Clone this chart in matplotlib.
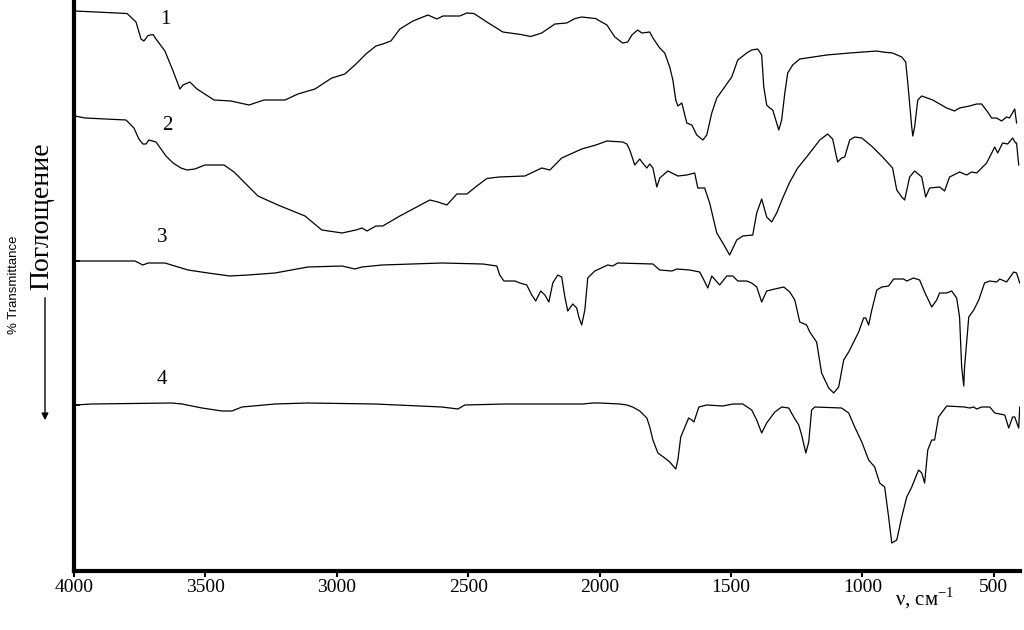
import matplotlib
matplotlib.use("Agg")
import matplotlib.pyplot as plt

plt.rcParams['font.family'] = ['Liberation Serif', 'DejaVu Serif']
plt.rcParams['mathtext.fontset'] = 'custom'
plt.rcParams['mathtext.rm'] = 'Liberation Serif'

# IR spectra, wavenumber (cm-1) and absorption (arbitrary units, stacked, grows downward)
nu1 = [3996, 3798, 3764, 3745, 3734, 3718, 3699, 3688, 3654, 3623, 3597, 3585, 3559, 3532, 3467,
       3403, 3334, 3277, 3197, 3148, 3083, 3019, 2969, 2927, 2889, 2851, 2825, 2794, 2760, 2710,
       2653, 2619, 2596, 2532, 2505, 2478, 2429, 2368, 2300, 2262, 2220, 2170, 2125, 2094, 2068,
       2014, 1999, 1972, 1942, 1912, 1893, 1877, 1855, 1839, 1809, 1797, 1771, 1752, 1733, 1721,
       1710, 1702, 1687, 1668, 1649, 1630, 1607, 1592, 1573, 1554, 1524, 1497, 1474, 1440, 1421,
       1398, 1383, 1375, 1364, 1352, 1341, 1326, 1318, 1307, 1295, 1284, 1265, 1238, 1212, 1136,
       1048, 945, 923, 885, 850, 835, 827, 812, 808, 801, 789, 774, 732, 679, 649, 630, 592, 565,
       546, 523, 508, 489, 470, 451, 440, 420, 413]
a1 = [11, 13.5, 22, 39, 41, 35.5, 34.5, 39, 51, 71, 89, 85, 82, 89, 100,
      101, 105, 100, 100, 94, 89, 78, 74, 64, 54, 46, 44, 41, 29, 21,
      15, 19, 16, 16, 13, 13.5, 22, 32, 34.5, 36.5, 33, 24, 23, 18.6, 17,
      18.6, 21, 25, 37, 43, 42, 35, 30, 33, 32, 38, 48, 53, 67, 80,
      100, 106, 103, 123, 125, 135, 140, 135, 113, 98, 87, 77, 60, 53, 50,
      49, 55, 87, 105, 108, 110, 123, 130, 120, 93, 73, 65, 59, 58, 55,
      53, 51, 52, 53, 57, 62, 83, 127, 136, 127, 100, 96, 100, 108, 111, 108, 106, 104,
      104, 112, 118, 118, 121, 117, 118, 109, 123]

nu2 = [3996, 3958, 3802, 3772, 3753, 3738, 3726, 3715, 3688, 3650, 3623, 3593, 3570, 3540, 3502,
       3429, 3391, 3300, 3224, 3121, 3057, 2980, 2927, 2904, 2885, 2851, 2825, 2760, 2646, 2615,
       2581, 2543, 2505, 2467, 2429, 2383, 2284, 2220, 2189, 2144, 2068, 2014, 1972, 1912, 1896,
       1885, 1866, 1847, 1836, 1820, 1809, 1797, 1782, 1771, 1740, 1702, 1668, 1638, 1626, 1600,
       1581, 1554, 1531, 1505, 1478, 1455, 1417, 1402, 1383, 1364, 1345, 1326, 1303, 1276, 1246,
       1212, 1162, 1132, 1113, 1094, 1079, 1067, 1048, 1029, 1002, 961, 923, 885, 869, 850, 839,
       820, 801, 774, 759, 744, 706, 687, 668, 630, 603, 584, 565, 527, 496, 485, 466, 447, 428,
       417, 413, 405]
a2 = [116, 118, 120, 128, 139, 144, 144, 140, 142, 156, 163, 168, 170, 169, 165,
      165, 172, 196, 205, 216, 230, 233, 230, 228, 231, 226, 226, 216, 200, 202,
      205, 194, 194, 186, 178.5, 177, 176, 168, 170, 158, 149, 145, 141, 142, 144,
      150, 165, 159, 163, 168, 164, 168, 187, 178, 171, 176, 175, 173, 188, 188,
      203, 233, 243, 255, 240, 236, 235, 213, 199, 217, 222, 213, 198, 182, 168,
      157, 140, 134, 139, 162, 158, 157, 140, 137, 138, 147, 157, 168, 190, 197, 200,
      177, 171, 177, 197, 188, 187, 191, 177, 172, 175, 172, 173, 163, 147, 153, 143, 144, 138,
      143, 143, 165]

nu3 = [3996, 3768, 3738, 3718, 3654, 3566, 3490, 3407, 3338, 3235, 3110, 2980, 2931, 2904, 2828,
       2600, 2444, 2391, 2380, 2364, 2322, 2303, 2277, 2258, 2243, 2224, 2208, 2193, 2178, 2159,
       2144, 2132, 2121, 2102, 2087, 2079, 2068, 2056, 2045, 2018, 1969, 1950, 1931, 1797, 1771,
       1725, 1706, 1657, 1619, 1603, 1588, 1573, 1543, 1516, 1493, 1474, 1440, 1421, 1402, 1383,
       1364, 1333, 1299, 1276, 1257, 1238, 1212, 1200, 1174, 1155, 1128, 1109, 1090, 1071, 1052,
       1014, 995, 987, 976, 964, 945, 926, 900, 881, 843, 831, 805, 782, 763, 736, 717, 706, 679,
       660, 641, 630, 622, 614, 611, 595, 576, 557, 535, 515, 489, 477, 451, 424, 413, 401]
a3 = [261, 261, 265, 263, 263, 270, 273, 276, 275, 273, 267, 266, 269, 267, 265,
      263, 264, 266, 275, 281, 281, 283, 285, 295, 301, 291, 295, 302, 283, 275,
      277, 297, 311, 304, 308, 317, 325, 310, 278, 271, 265, 266, 263, 264, 270,
      271, 269, 270, 272, 280, 288, 276, 285, 276, 276, 281, 281, 283, 287, 302,
      291, 289, 287, 292, 300, 322, 325, 332, 342, 373, 388, 393, 387, 360, 352,
      332, 318, 318, 325, 310, 290, 287, 286, 279, 279, 281, 278, 280, 292, 307, 300, 293, 293,
      291, 298, 317, 367, 386, 367, 317, 310, 300, 283, 281, 282, 279, 282, 272, 273, 283]

nu4 = [3996, 3932, 3627, 3589, 3513, 3437, 3399, 3361, 3235, 3110, 2855, 2600, 2539, 2513, 2360,
       2178, 2064, 2026, 1999, 1923, 1896, 1874, 1847, 1820, 1809, 1797, 1778, 1752, 1733, 1710,
       1702, 1691, 1683, 1661, 1649, 1641, 1622, 1592, 1531, 1493, 1455, 1421, 1402, 1383, 1364,
       1333, 1307, 1280, 1261, 1242, 1231, 1215, 1204, 1193, 1181, 1079, 1052, 1029, 1002, 976,
       953, 934, 915, 900, 888, 869, 850, 831, 812, 786, 774, 763, 751, 736, 725, 710, 679, 611,
       592, 576, 565, 546, 515, 496, 458, 443, 428, 420, 405, 401]
a4 = [405, 404, 403, 404, 408, 411, 411, 407, 404, 403, 404, 407, 409, 405, 404,
      404, 404, 403, 403, 404, 405, 407, 411, 418, 427, 440, 453, 458, 462, 469,
      460, 437, 432, 418, 420, 422, 407, 405, 406, 404, 404, 410, 420, 433, 423,
      412, 407, 408, 417, 425, 435, 453, 442, 410, 407, 408, 413, 427, 442, 460,
      467, 483, 487, 517, 543, 540, 517, 497, 487, 470, 473, 483, 450, 440, 440, 417, 406, 407,
      408, 407, 409, 407, 407, 413, 415, 428, 417, 417, 428, 407]

spectra = [(nu1, a1, '1', 3654, 20), (nu2, a2, '2', 3646, 126),
           (nu3, a3, '3', 3665, 238), (nu4, a4, '4', 3665, 380)]
xticks = [4000, 3500, 3000, 2500, 2000, 1500, 1000, 500]

fig = plt.figure(figsize=(10.24, 6.30), dpi=100)
ax = fig.add_axes([74 / 1024, 59 / 630, 946 / 1024, 571 / 630])

for nu, a, lab, lx, ly in spectra:
    ax.plot(nu, a, color='black', linewidth=0.9)
    ax.text(lx, ly, lab, fontsize=15, ha='center', va='center')

ax.set_xlim(4000, 400)
ax.set_ylim(571, 0)
ax.set_xticks(xticks)
ax.set_xticklabels([str(t) for t in xticks], fontsize=14)
ax.set_yticks([261, 405])
ax.set_yticklabels([])
ax.tick_params(axis='x', direction='out', length=4, width=1.5, pad=2)
ax.tick_params(axis='y', direction='in', length=4, width=1.2)
for side in ['top', 'right']:
    ax.spines[side].set_visible(False)
for side in ['left', 'bottom']:
    ax.spines[side].set_linewidth(3)

fig.text(925 / 1024, 1 - 598 / 630, 'ν, см$^{-1}$', fontsize=15, ha='center', va='center')
fig.text(42 / 1024, 1 - 216 / 630, 'Поглощение', fontsize=20, rotation=90, ha='center', va='center')
fig.text(14 / 1024, 1 - 285 / 630, '% Transmittance', fontsize=9.5, rotation=90,
         ha='center', va='center', family='Liberation Sans')
ax.annotate('', xy=(45, 630 - 423), xytext=(45, 630 - 295), xycoords='figure pixels',
            textcoords='figure pixels',
            arrowprops=dict(arrowstyle='-|>', color='black', lw=1.0, mutation_scale=10))

fig.savefig('out.png', dpi=100)
